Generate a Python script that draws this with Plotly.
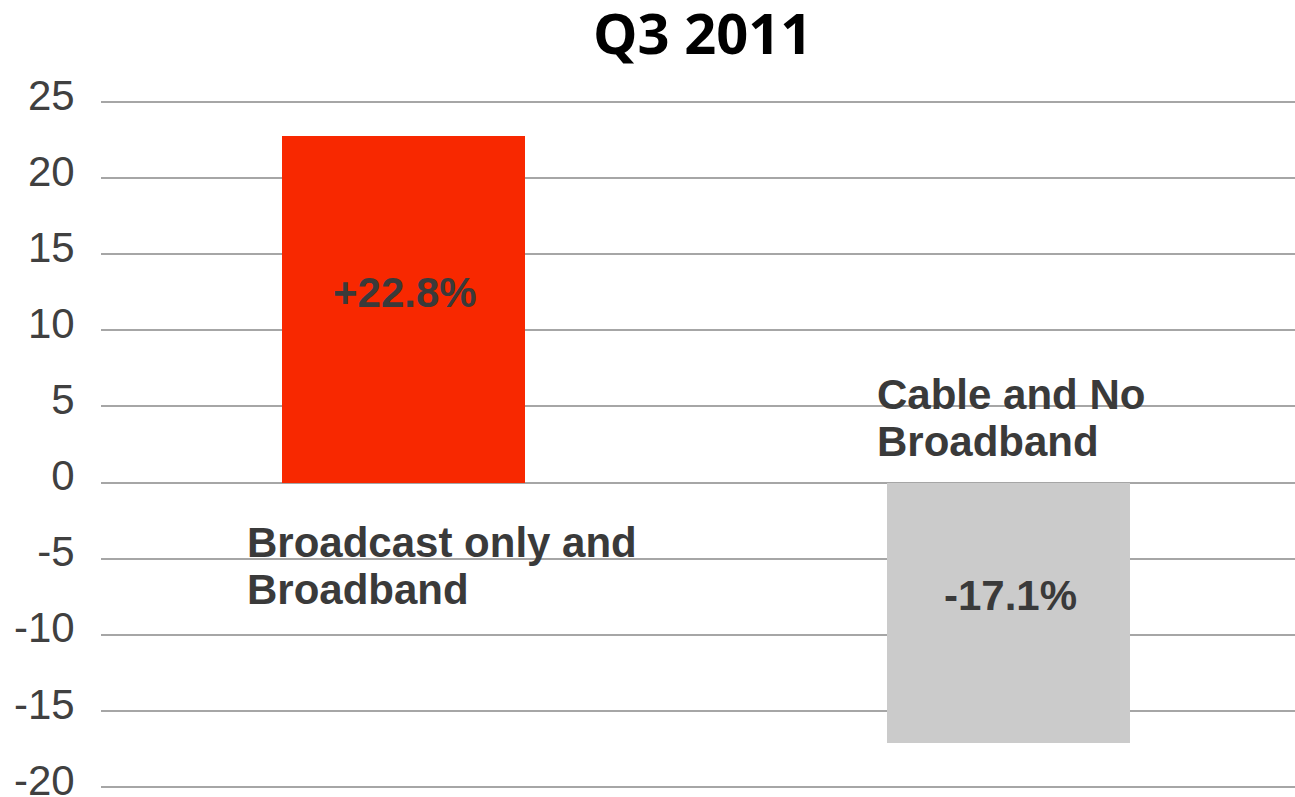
import plotly.graph_objects as go

# Change in households, Q3 2011 (%)
categories = ["Broadcast only and Broadband", "Cable and No Broadband"]
category_lines = [["Broadcast only and", "Broadband"], ["Cable and No", "Broadband"]]
values = [22.8, -17.1]
value_labels = ["+22.8%", "-17.1%"]
bar_colors = ["#F82800", "#CBCBCB"]

y_ticks = [25, 20, 15, 10, 5, 0, -5, -10, -15, -20]

TEXT = "#3a3a3a"
FONT = "Liberation Sans, Arial, sans-serif"

fig = go.Figure()
fig.add_trace(go.Bar(
    x=list(range(len(categories))),
    y=values,
    width=0.402,
    marker=dict(color=bar_colors, line=dict(width=0)),
    hovertext=categories,
    showlegend=False,
))

# value labels inside the bars
for i, (v, lab) in enumerate(zip(values, value_labels)):
    fig.add_annotation(
        x=i, y=v / 2, text=f"<b>{lab}</b>", showarrow=False,
        xshift=2, yshift=17, font=dict(family=FONT, size=42, color=TEXT),
    )

# category captions, one line per annotation (below the zero line for
# positive bars, above it for negative bars)
caption_xshift = [-158, -133]
LINE_STEP = 47
for i, lines in enumerate(category_lines):
    first = -60 if values[i] > 0 else 88
    for j, line in enumerate(lines):
        fig.add_annotation(
            x=i, y=0, text=f"<b>{line}</b>", showarrow=False,
            xanchor="left", yanchor="middle", xshift=caption_xshift[i],
            yshift=first - LINE_STEP * j,
            font=dict(family=FONT, size=42, color=TEXT),
        )

# chart title
fig.add_annotation(
    xref="paper", yref="paper", x=0.504, y=1.092,
    xanchor="center", yanchor="middle", showarrow=False,
    text="<b>Q3 2011</b>",
    font=dict(family="Open Sans, sans-serif", size=56, color="#000000"),
)

fig.update_layout(
    width=1295, height=797,
    margin=dict(l=101, r=0, t=96, b=4, autoexpand=False),
    paper_bgcolor="white", plot_bgcolor="white",
    xaxis=dict(
        range=[-0.5, 1.4736], showticklabels=False, showgrid=False,
        zeroline=False, showline=False, fixedrange=True, automargin=False,
    ),
    yaxis=dict(
        range=[-20.4, 25.4], tickvals=y_ticks, ticktext=[str(t) for t in y_ticks],
        showgrid=True, gridcolor="#a6a6a6", gridwidth=2,
        zeroline=True, zerolinecolor="#a6a6a6", zerolinewidth=2,
        showline=False, ticks="outside", ticklen=17, tickcolor="rgba(0,0,0,0)",
        ticklabelshift=-7, ticklabeloverflow="allow", automargin=False,
        tickfont=dict(family=FONT, size=42, color="#404040"),
    ),
    bargap=0,
)

fig.write_html("out.html")
